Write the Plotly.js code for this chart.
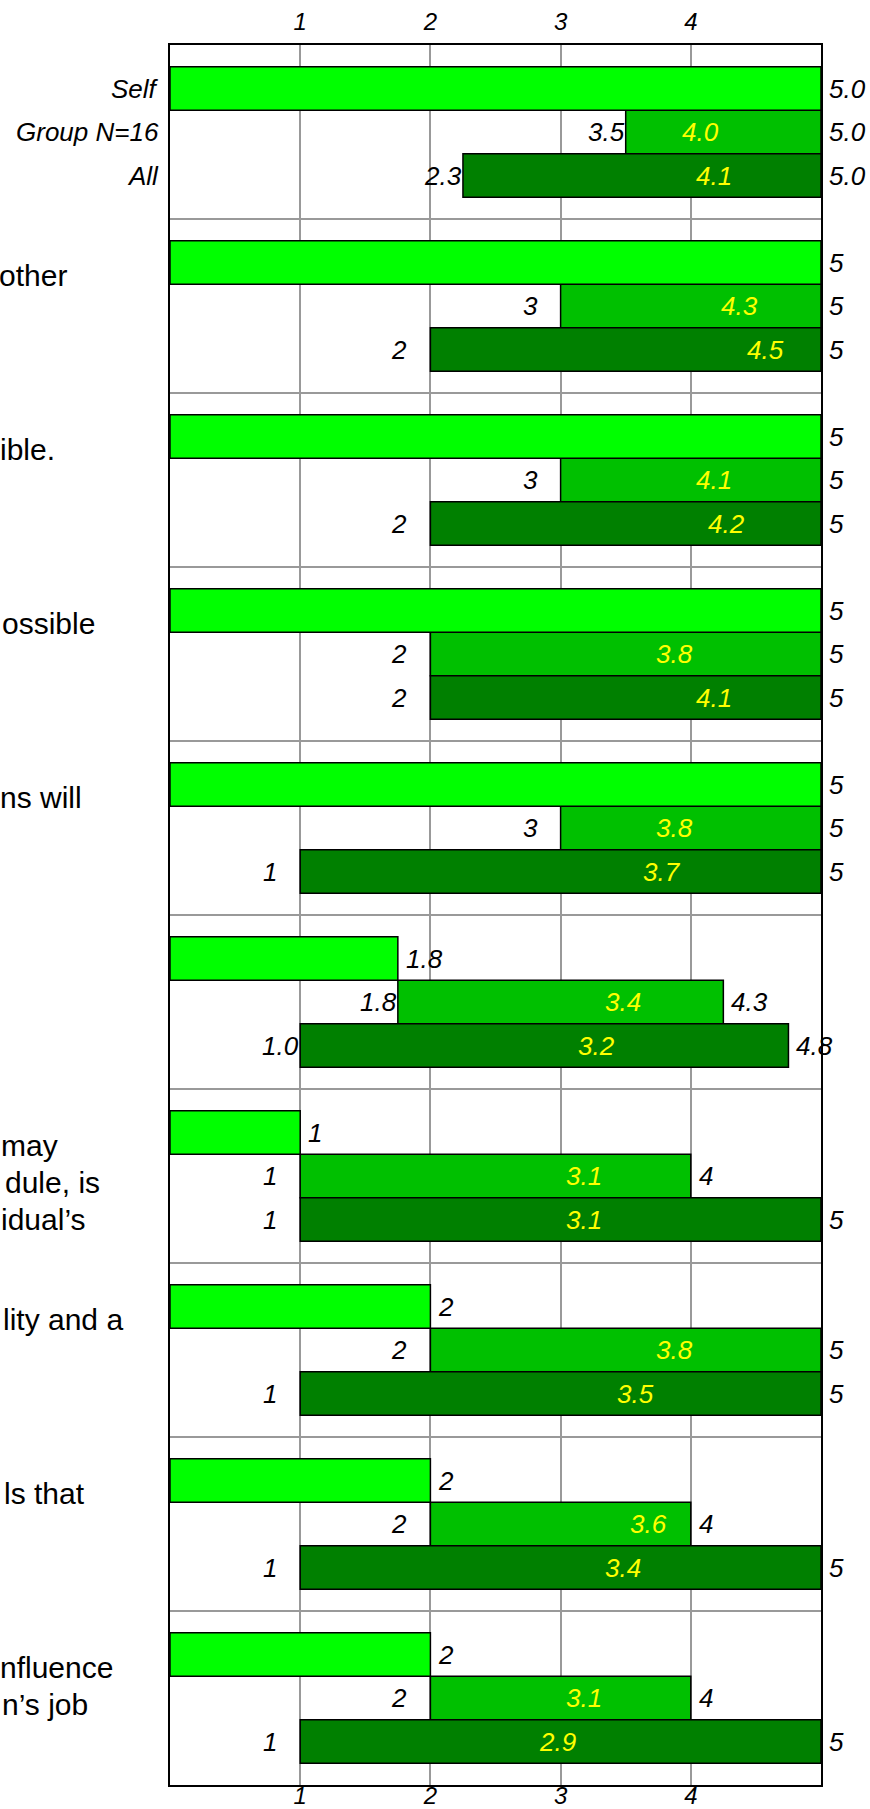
<!DOCTYPE html>
<html>
<head>
<meta charset="utf-8">
<script src="https://cdn.plot.ly/plotly-3.0.1.min.js"></script>
<style>
  html, body { margin: 0; padding: 0; background: #ffffff; }
  #chart { width: 870px; height: 1809px; }
</style>
</head>
<body>
<div id="chart"></div>
<script>
// ---- Scores per question (1-5 scale) ----
const selfScore = [5, 5, 5, 5, 5, 1.75, 1, 2, 2, 2];
const groupMin  = [3.5, 3, 3, 2, 3, 1.75, 1, 2, 2, 2];
const groupMean = [4.0, 4.3, 4.1, 3.8, 3.8, 3.4, 3.1, 3.8, 3.6, 3.1];
const groupMax  = [5, 5, 5, 5, 5, 4.25, 4, 5, 4, 4];
const allMin    = [2.25, 2, 2, 2, 1, 1, 1, 1, 1, 1];
const allMean   = [4.1, 4.5, 4.2, 4.1, 3.7, 3.2, 3.1, 3.5, 3.4, 2.9];
const allMax    = [5, 5, 5, 5, 5, 4.75, 5, 5, 5, 5];

// Row captions and axis ticks
const rowNames = ["Self", "Group N=16", "All"];
const scaleTicks = [1, 2, 3, 4];

// Question wording (trailing parts of each wrapped line)
const questionTails = [
  [], ["other"], ["ible."], ["ossible"], ["ns will"], [],
  ["may", "dule, is", "idual\u2019s"], ["lity and a"], ["ls that"],
  ["nfluence", "n\u2019s job"]
];

// ---- Layout helpers ----
const ROWS_PER_Q = 4;                 // 3 bars + half-row padding top and bottom
const nQ = selfScore.length;
const FONT = "Liberation Sans, Arial, sans-serif";
const PLOT_LEFT = 170;
const tailRightPx = [[], [67], [55], [95], [82], [], [58, 100, 86], [123], [85], [113, 88]];

const qIdx = selfScore.map((_, i) => i);
const yOf = (q, row) => q * ROWS_PER_Q + 1 + row;
const isInt = v => Math.abs(v - Math.round(v)) < 1e-9;
const decimals = qIdx.map(i =>
  [selfScore[i], groupMin[i], groupMax[i], allMin[i], allMax[i]].every(isInt) ? 0 : 1);

const barLine = { color: "#000000", width: 1.5 };

const traces = [
  {
    type: "bar", orientation: "h", name: rowNames[0],
    y: qIdx.map(i => yOf(i, 0)), x: selfScore, base: qIdx.map(() => 0),
    width: 1, marker: { color: "#00ff00", line: barLine },
    hoverinfo: "skip", xaxis: "x2"
  },
  {
    type: "bar", orientation: "h", name: rowNames[1],
    y: qIdx.map(i => yOf(i, 1)), x: qIdx.map(i => groupMax[i] - groupMin[i]), base: groupMin,
    width: 1, marker: { color: "#00c000", line: barLine },
    hoverinfo: "skip"
  },
  {
    type: "bar", orientation: "h", name: rowNames[2],
    y: qIdx.map(i => yOf(i, 2)), x: qIdx.map(i => allMax[i] - allMin[i]), base: allMin,
    width: 1, marker: { color: "#008000", line: barLine },
    hoverinfo: "skip"
  }
];

const labelFont = { family: FONT, size: 26, color: "#000000", style: "italic" };
const meanFont = { family: FONT, size: 26, color: "#ffff00", style: "italic" };
const annotations = [];

function addRight(x, y, text) {
  annotations.push({ x: x, y: y, xref: "x", yref: "y", text: text, showarrow: false,
    xanchor: "left", yanchor: "middle", xshift: 6, font: labelFont });
}
function addLeft(x, y, text, dec) {
  annotations.push({ x: x, y: y, xref: "x", yref: "y", text: text, showarrow: false,
    xanchor: "right", yanchor: "middle", xshift: dec ? 1 : -21, font: labelFont });
}
function addMean(x, y) {
  annotations.push({ x: x, y: y, xref: "x", yref: "y", text: x.toFixed(1), showarrow: false,
    xanchor: "center", yanchor: "middle", xshift: 10, font: meanFont });
}

qIdx.forEach(i => {
  const d = decimals[i];
  addRight(selfScore[i], yOf(i, 0), selfScore[i].toFixed(d));
  addLeft(groupMin[i], yOf(i, 1), groupMin[i].toFixed(d), d);
  addMean(groupMean[i], yOf(i, 1));
  addRight(groupMax[i], yOf(i, 1), groupMax[i].toFixed(d));
  addLeft(allMin[i], yOf(i, 2), allMin[i].toFixed(d), d);
  addMean(allMean[i], yOf(i, 2));
  addRight(allMax[i], yOf(i, 2), allMax[i].toFixed(d));
});

// Row captions beside the first question
rowNames.forEach((name, r) => {
  annotations.push({ x: 0, y: yOf(0, r), xref: "paper", yref: "y", text: name,
    showarrow: false, xanchor: "right", yanchor: "middle", xshift: -9, font: labelFont });
});

// Question wording, one line per annotation
questionTails.forEach((lines, i) => {
  lines.forEach((line, k) => {
    annotations.push({ x: 0, y: i * ROWS_PER_Q, xref: "paper", yref: "y", text: line,
      showarrow: false, xanchor: "right", yanchor: "middle",
      xshift: tailRightPx[i][k] - PLOT_LEFT + 2, yshift: -(56 + k * 37),
      font: { family: FONT, size: 30, color: "#000000" } });
  });
});

const tickFont = { family: FONT, size: 24, color: "#000000", style: "italic" };
const separators = qIdx.slice(1).map(i => i * ROWS_PER_Q);

const layout = {
  width: 870, height: 1809,
  margin: { l: PLOT_LEFT, r: 49, t: 45, b: 24, pad: 0 },
  paper_bgcolor: "#ffffff", plot_bgcolor: "#ffffff",
  showlegend: false, barmode: "overlay",
  xaxis: {
    range: [0, 5], tickvals: scaleTicks, ticktext: scaleTicks.map(String),
    showgrid: true, gridcolor: "#999999", gridwidth: 2, zeroline: false,
    showline: true, mirror: true, linecolor: "#000000", linewidth: 2,
    ticks: "", tickfont: tickFont, ticklabelstandoff: -12, fixedrange: true
  },
  xaxis2: {
    overlaying: "x", matches: "x", side: "top", anchor: "y",
    range: [0, 5], tickvals: scaleTicks, ticktext: scaleTicks.map(String),
    showgrid: false, zeroline: false, showline: false,
    ticks: "", tickfont: tickFont, ticklabelstandoff: 9, fixedrange: true
  },
  yaxis: {
    range: [nQ * ROWS_PER_Q, 0], tickvals: separators, showticklabels: false,
    showgrid: true, gridcolor: "#999999", gridwidth: 2, zeroline: false,
    showline: true, mirror: true, linecolor: "#000000", linewidth: 2,
    ticks: "", fixedrange: true
  },
  annotations: annotations
};

Plotly.newPlot("chart", traces, layout, { staticPlot: true, displayModeBar: false });
</script>
</body>
</html>
